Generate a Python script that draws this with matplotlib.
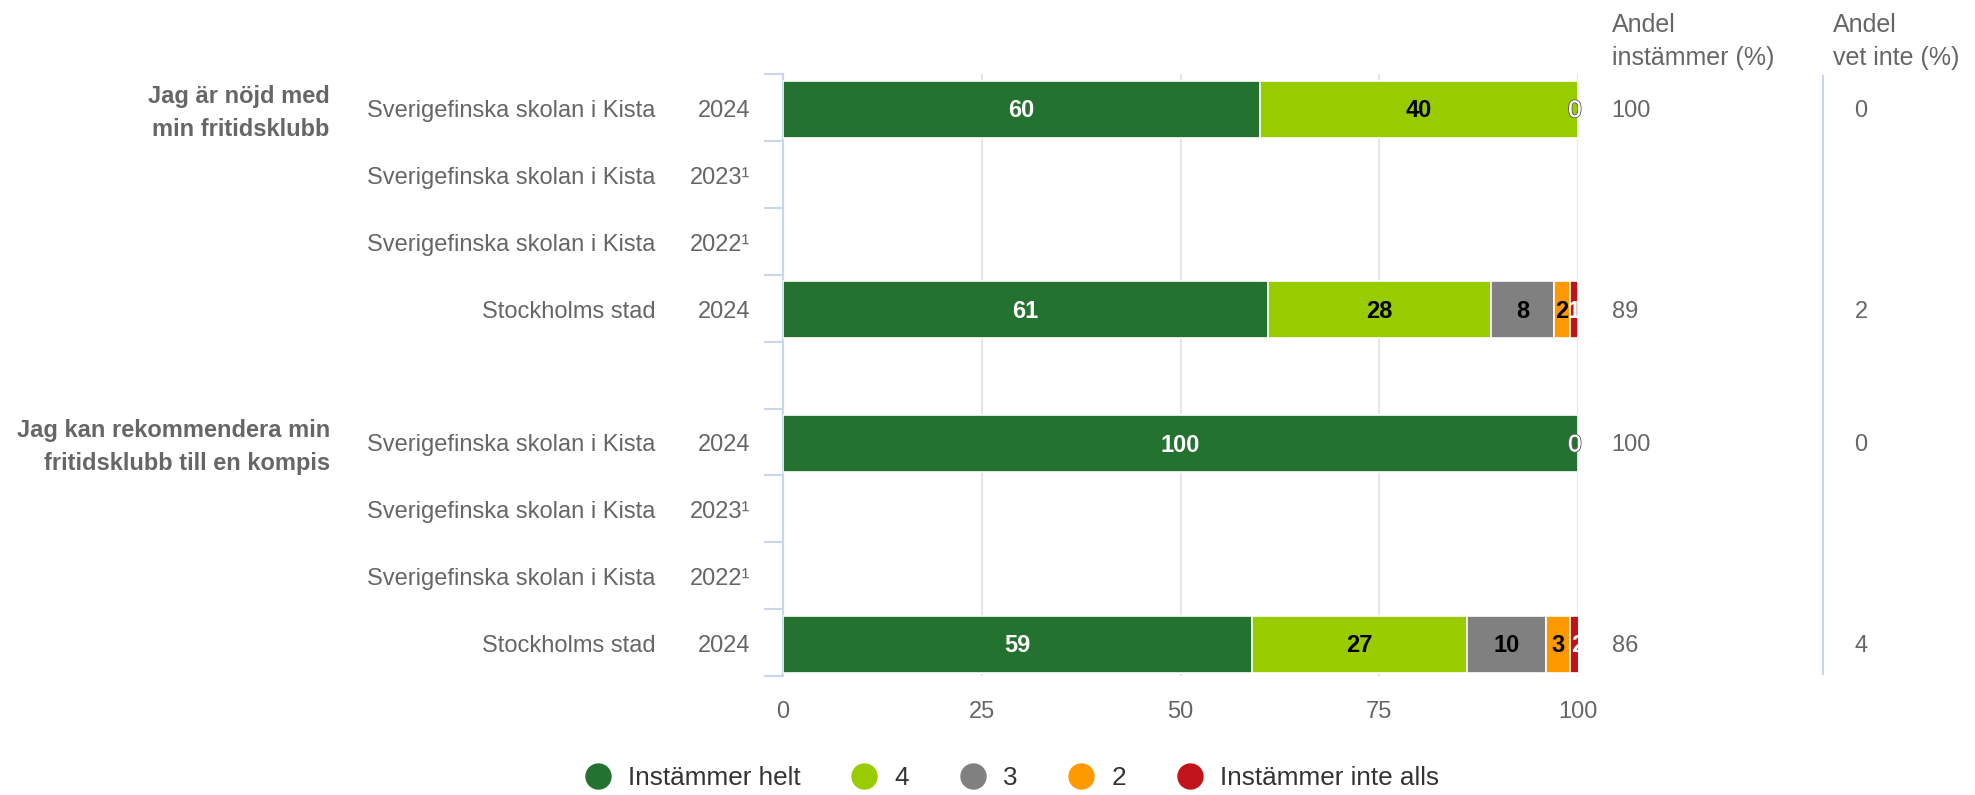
import matplotlib.pyplot as plt
import matplotlib.patheffects as pe
from matplotlib.lines import Line2D
from matplotlib.transforms import blended_transform_factory

plt.rcParams['font.family'] = ['Liberation Sans', 'DejaVu Sans']

series_names = ['Instämmer helt', '4', '3', '2', 'Instämmer inte alls']
colors = ['#23722f', '#99cc00', '#808080', '#ff9900', '#c0141a']
label_colors = ['white', 'black', 'black', 'black', 'white']

group_labels = ['Jag är nöjd med\nmin fritidsklubb',
                'Jag kan rekommendera min\nfritidsklubb till en kompis']
row_names = ['Sverigefinska skolan i Kista', 'Sverigefinska skolan i Kista',
             'Sverigefinska skolan i Kista', 'Stockholms stad'] * 2
row_years = ['2024', '2023¹', '2022¹', '2024'] * 2

# one list per series, None = no data
helt = [60, None, None, 61, 100, None, None, 59]
four = [40, None, None, 28, 0, None, None, 27]
three = [0, None, None, 8, None, None, None, 10]
two = [None, None, None, 2, None, None, None, 3]
inte = [None, None, None, 1, None, None, None, 2]
values = [helt, four, three, two, inte]

andel_instammer = ['100', '', '', '89', '100', '', '', '86']
andel_vet_inte = ['0', '', '', '2', '0', '', '', '4']

slots = [0.5, 1.5, 2.5, 3.5, 5.5, 6.5, 7.5, 8.5]
dy = 0.05  # small nudge so text sits on the bar centre

fig = plt.figure(figsize=(19.75, 7.95), dpi=100)
ax = fig.add_axes([0.3965, 0.1497, 0.4025, 0.757])

left = [0.0] * len(slots)
for s in range(5):
    for i, v in enumerate(values[s]):
        if v is None:
            continue
        if v > 0:
            ax.barh(slots[i] + dy / 2, v, left=left[i], height=0.85, color=colors[s],
                    edgecolor='white', linewidth=1.2, zorder=3)
            ax.text(left[i] + v / 2, slots[i] + dy, str(v), ha='center', va='center',
                    fontsize=17, fontweight='bold', color=label_colors[s], zorder=4)
        else:
            t = ax.text(left[i] + v - 0.4, slots[i] + dy, str(v), ha='center', va='center',
                        fontsize=17, color='white', zorder=4)
            t.set_path_effects([pe.withStroke(linewidth=1.6, foreground='#666666'),
                                pe.Normal()])
        left[i] += v

ax.set_xlim(0, 100)
ax.set_ylim(9, 0)
ax.set_xticks([0, 25, 50, 75, 100])
ax.tick_params(axis='x', length=0, labelsize=17, labelcolor='#666666', pad=18)
ax.set_yticks(range(10))
ax.set_yticklabels([])
ax.tick_params(axis='y', length=14, color='#ccd6eb', width=1.5)
ax.grid(axis='x', color='#e6e6e6', linewidth=1.5, zorder=0)
for sp in ['top', 'right', 'bottom']:
    ax.spines[sp].set_visible(False)
ax.spines['left'].set_color('#ccd6eb')
ax.spines['left'].set_linewidth(1.5)

tr = blended_transform_factory(fig.transFigure, ax.transData)
for i, y in enumerate(slots):
    ax.text(0.332, y + dy, row_names[i], transform=tr, ha='right', va='center',
            fontsize=17, color='#666666')
    ax.text(0.380, y + dy, row_years[i], transform=tr, ha='right', va='center',
            fontsize=17, color='#666666')
    ax.text(0.816, y + dy, andel_instammer[i], transform=tr, ha='left', va='center',
            fontsize=17, color='#666666')
    ax.text(0.939, y + dy, andel_vet_inte[i], transform=tr, ha='left', va='center',
            fontsize=17, color='#666666')

for g, y in zip(group_labels, [slots[0], slots[4]]):
    ax.text(0.167, y + dy + 0.03, g, transform=tr, ha='right', va='center', fontsize=17,
            fontweight='bold', color='#666666', linespacing=1.55)

fig.text(0.816, 0.948, 'Andel\ninstämmer (%)', ha='left', va='center',
         fontsize=18, color='#666666', linespacing=1.45)
fig.text(0.928, 0.948, 'Andel\nvet inte (%)', ha='left', va='center',
         fontsize=18, color='#666666', linespacing=1.45)
fig.add_artist(Line2D([0.923, 0.923], [0.152, 0.905], transform=fig.transFigure,
                      color='#ccd6eb', linewidth=1.5))

handles = [Line2D([], [], marker='o', linestyle='none', markersize=18,
                  markerfacecolor=c, markeredgecolor=c) for c in colors]
fig.legend(handles, series_names, loc='center', bbox_to_anchor=(0.509, 0.021),
           ncol=5, frameon=False, fontsize=18.8, handletextpad=0.15,
           columnspacing=1.45, labelcolor='#333333')

fig.savefig('out.png', dpi=100)
